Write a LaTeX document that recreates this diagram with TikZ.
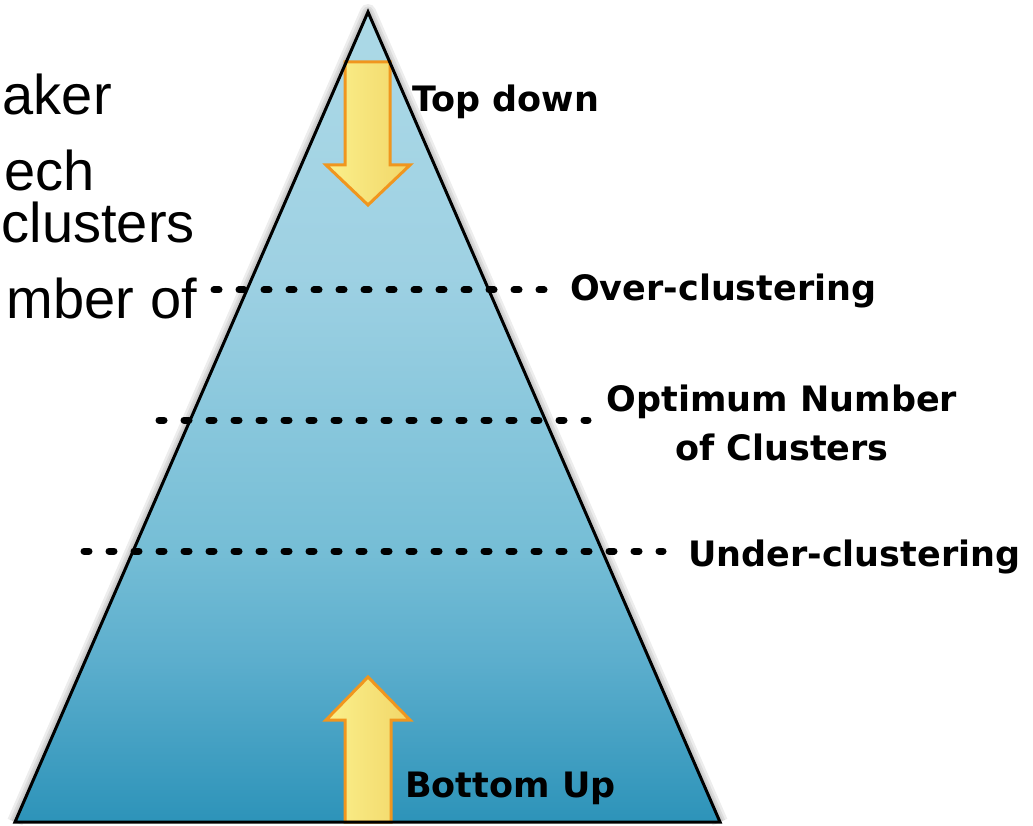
\documentclass[tikz,border=0pt]{standalone}
\usepackage{fontspec}
\setmainfont{Liberation Sans}
\newfontfamily\labelfont{DejaVu Sans}
\usetikzlibrary{calc}

\definecolor{pyrtop}{RGB}{172,217,230}
\definecolor{pyrhigh}{RGB}{158,209,227}
\definecolor{pyrmid}{RGB}{118,190,214}
\definecolor{pyrlow}{RGB}{92,174,205}
\definecolor{pyrbot}{RGB}{45,147,185}
\definecolor{arroworange}{RGB}{240,150,30}
\definecolor{arrowlight}{RGB}{250,240,140}
\definecolor{arrowdark}{RGB}{242,214,104}

\pgfdeclareverticalshading{pyramid}{100bp}{color(0bp)=(pyrbot); color(25bp)=(pyrbot); color(35bp)=(pyrlow); color(42bp)=(pyrmid); color(59bp)=(pyrhigh); color(75bp)=(pyrtop); color(100bp)=(pyrtop)}

\tikzset{
    labeltext/.style={font=\labelfont\bfseries\fontsize{35}{50}\selectfont, inner sep=0pt},
    slidetext/.style={font=\fontsize{56}{60}\selectfont, inner sep=0pt, anchor=base east},
    dotline/.style={line width=7pt, line cap=round, dash pattern=on 5pt off 20pt},
    arrowshape/.style={draw=arroworange, line width=3pt, left color=arrowlight, right color=arrowdark},
}

\begin{document}
\begin{tikzpicture}[x=1pt, y=-1pt]
    \useasboundingbox (0,0) rectangle (1033,826);

    % 頂点の座標の定義
    \coordinate (A) at (368,12);
    \coordinate (L) at (15,822);
    \coordinate (R) at (720,822);

    % 点線の端点
    \coordinate (overL) at (214,290);
    \coordinate (overR) at (548,290);
    \coordinate (optL) at (159,420);
    \coordinate (optR) at (588,420);
    \coordinate (underL) at (84,551);
    \coordinate (underR) at (663,551);

    % 左側のテキスト (切れている)
    \node[slidetext] (sa) at (112,115) {aker};
    \node[slidetext] (sb) at (95,191) {ech};
    \node[slidetext] (sc) at (195,243) {clusters};
    \node[slidetext] (sd) at (197,318) {mber of};

    % 影と三角形の塗り
    \foreach \w in {16,11,7}
        \draw[black, opacity=0.07, line width=\w pt, line join=round] (L) -- (A) -- (R);
    \shade[shading=pyramid] (L) -- (A) -- (R) -- cycle;

    % 矢印
    \draw[arrowshape] (345,62) -- (390,62) -- (390,165) -- (410,165) -- (368,205)
        -- (326,165) -- (345,165) -- cycle;
    \draw[arrowshape] (368,677) -- (410,720) -- (391,720) -- (391,822)
        -- (345,822) -- (345,720) -- (326,720) -- cycle;

    % 三角形の輪郭
    \draw[line width=3pt] (L) -- (A) -- (R) -- cycle;

    % 点線
    \draw[dotline] (overL) -- (overR);
    \draw[dotline] (optL) -- (optR);
    \draw[dotline] (underL) -- (underR);

    % ラベル
    \node[labeltext, anchor=base west] (top) at (412,112) {Top down};
    \node[labeltext, anchor=base west] (over) at (570,301) {Over-clustering};
    \node[labeltext, anchor=base] (opt) at (782,411) {Optimum Number};
    \node[labeltext, anchor=base] (optb) at (782,460) {of Clusters};
    \node[labeltext, anchor=base west] (under) at (688,566) {Under-clustering};
    \node[labeltext, anchor=base west] (bottom) at (405,797) {Bottom Up};

\end{tikzpicture}
\end{document}
